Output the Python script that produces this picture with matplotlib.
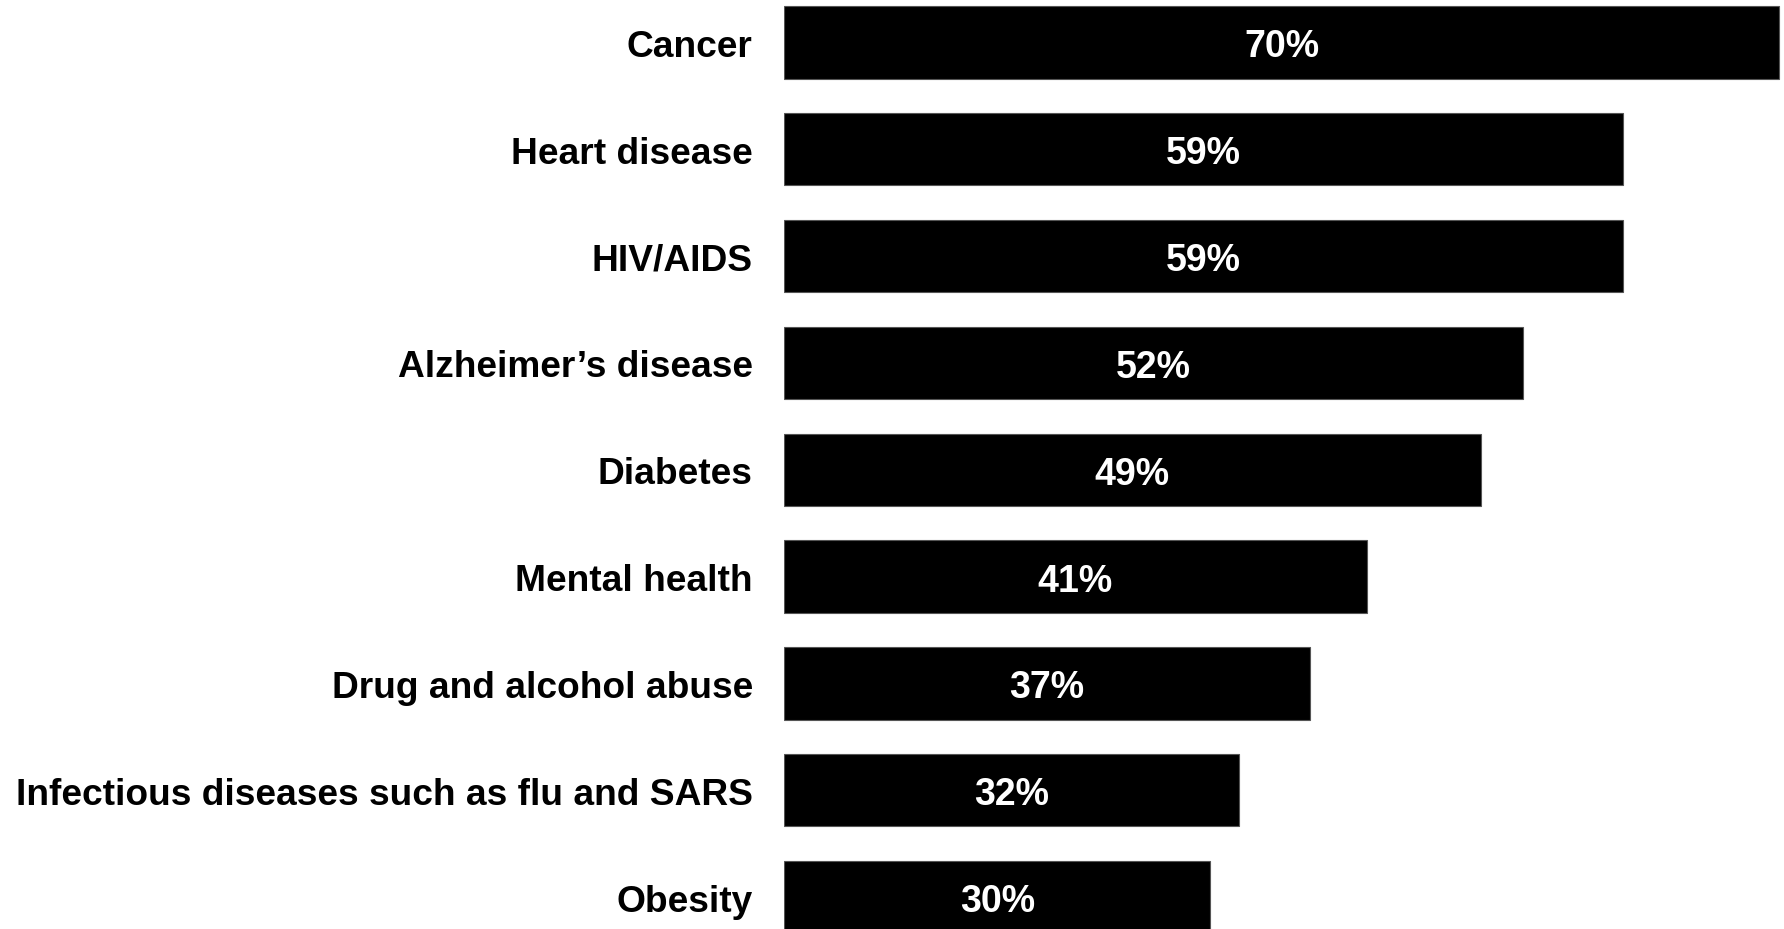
import matplotlib
matplotlib.use("Agg")
import matplotlib.pyplot as plt

categories = ["Cancer", "Heart disease", "HIV/AIDS", "Alzheimer\u2019s disease", "Diabetes",
              "Mental health", "Drug and alcohol abuse",
              "Infectious diseases such as flu and SARS", "Obesity"]
values = [70, 59, 59, 52, 49, 41, 37, 32, 30]
value_labels = ["70%", "59%", "59%", "52%", "49%", "41%", "37%", "32%", "30%"]

plt.rcParams['font.family'] = ['Liberation Sans', 'DejaVu Sans']

W, H = 1784, 929
fig = plt.figure(figsize=(W / 100, 9.299), dpi=100)
ax = fig.add_axes([784 / W, 0, 1 - 784 / W, 1])

pos = list(range(len(categories)))
ax.barh(pos, values, height=0.677, color="black", edgecolor="#555555", linewidth=0.8)
ax.set_xlim(0, 70.35)
ax.set_ylim(8.298, -0.405)

for p, v, lab in zip(pos, values, value_labels):
    ax.text(v / 2, p, lab, ha="center", va="center_baseline", color="white",
            fontsize=27, fontweight="bold")

ax.set_yticks(pos)
ax.set_yticklabels(categories, fontsize=26.7, fontweight="bold")
ax.tick_params(axis="y", length=0, pad=22.5)
ax.set_xticks([])
for s in ax.spines.values():
    s.set_visible(False)

fig.savefig("out.png", dpi=100, facecolor="white")
